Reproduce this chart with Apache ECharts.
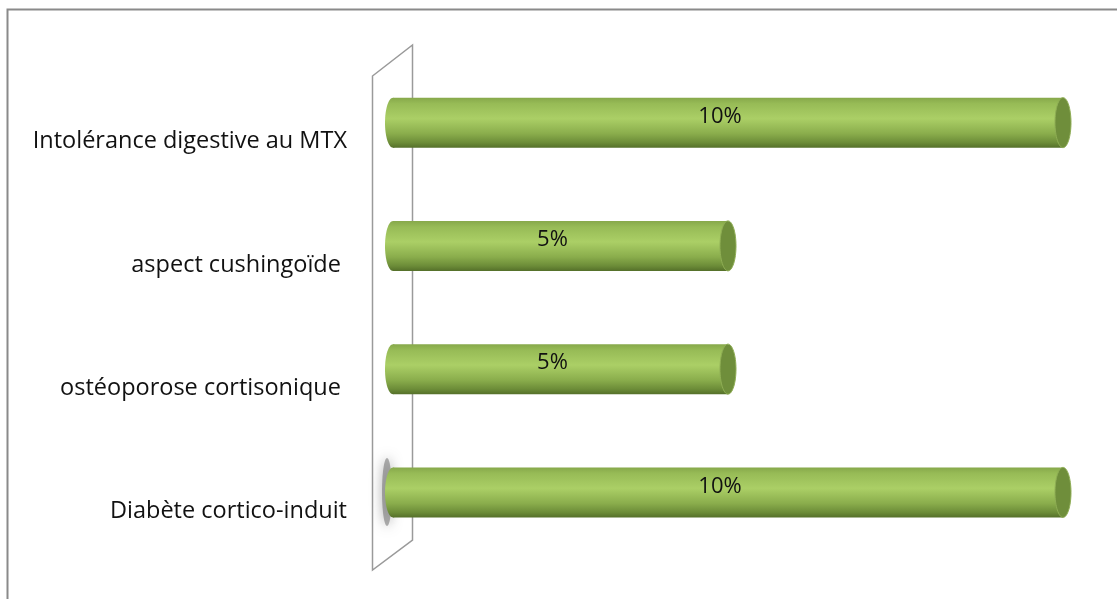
<!DOCTYPE html>
<html>
<head>
<meta charset="utf-8">
<script src="https://cdn.jsdelivr.net/npm/echarts@6/dist/echarts.min.js"></script>
<style>
  html, body { margin: 0; padding: 0; background: #fff; }
  #chart { width: 1117px; height: 599px; }
</style>
</head>
<body>
<div id="chart"></div>
<script>
// Side effects of treatment, share of patients (%), listed bottom to top
const categories = [
  'Diabète cortico-induit',
  'ostéoporose cortisonique ',
  'aspect cushingoïde ',
  'Intolérance digestive au MTX'
];
const percentValues = [10, 5, 5, 10];

const FONT = '"Open Sans", "Noto Sans", sans-serif';

const bodyGradient = new echarts.graphic.LinearGradient(0, 0, 0, 1, [
  { offset: 0, color: '#86a84a' },
  { offset: 0.12, color: '#97bb56' },
  { offset: 0.42, color: '#abcf66' },
  { offset: 0.72, color: '#8aad4c' },
  { offset: 0.9, color: '#6c8c38' },
  { offset: 1, color: '#55702a' }
]);

// Cylinder drawn along the value axis: back end, body and front cap
function renderCylinder(params, api) {
  const cat = api.value(0);
  const val = api.value(1);
  const start = api.coord([0, cat]);
  const end = api.coord([val, cat]);
  const band = api.size([0, 1])[1];
  const h = Math.min(50, band * 0.41);
  const top = start[1] - h / 2;
  const rx = 8;
  return {
    type: 'group',
    children: [
      {
        type: 'ellipse',
        shape: { cx: start[0], cy: start[1], rx: rx, ry: h / 2 },
        style: { fill: bodyGradient }
      },
      {
        type: 'rect',
        shape: { x: start[0], y: top, width: end[0] - start[0], height: h },
        style: { fill: bodyGradient }
      },
      {
        type: 'ellipse',
        shape: { cx: end[0], cy: end[1], rx: rx, ry: h / 2 },
        style: { fill: '#6f8e3b', stroke: '#8fae55', lineWidth: 1 }
      },
      {
        type: 'text',
        x: (start[0] + end[0]) / 2 - 8,
        y: start[1] - 6,
        style: {
          text: val + '%',
          fill: '#111',
          font: '22px ' + FONT,
          align: 'center',
          verticalAlign: 'middle'
        }
      }
    ]
  };
}

const chart = echarts.init(document.getElementById('chart'), null, { renderer: 'canvas' });

chart.setOption({
  animation: false,
  backgroundColor: '#ffffff',
  grid: { left: 393, right: 54, top: 61, bottom: 45 },
  xAxis: {
    type: 'value',
    min: 0,
    max: 10,
    show: false
  },
  yAxis: {
    type: 'category',
    data: categories,
    axisLine: { show: false },
    axisTick: { show: false },
    splitLine: { show: false },
    axisLabel: {
      margin: 46,
      formatter: (v) => '{t|' + v + '}',
      // labels sit a little below the middle of each band
      rich: {
        t: {
          color: '#111',
          fontSize: 23.5,
          fontFamily: FONT,
          padding: [38, 0, 0, 0]
        }
      }
    }
  },
  graphic: [
    {
      type: 'rect',
      z: -10,
      shape: { x: 7.5, y: 9.5, width: 1300, height: 800 },
      style: { fill: 'none', stroke: '#8a8a8a', lineWidth: 2 }
    },
    {
      type: 'polygon',
      z: -5,
      shape: { points: [[372.5, 76], [412.5, 45], [412.5, 540], [372.5, 570]] },
      style: { fill: '#ffffff', stroke: '#9a9a9a', lineWidth: 1.5 }
    },
    {
      type: 'ellipse',
      z: -4,
      shape: { cx: 387, cy: 492, rx: 5, ry: 34 },
      style: { fill: 'rgba(100,100,100,0.5)', shadowBlur: 12, shadowColor: 'rgba(90,90,90,1)' }
    }
  ],
  series: [
    {
      type: 'custom',
      renderItem: renderCylinder,
      encode: { x: 1, y: 0 },
      data: percentValues.map((v, i) => [i, v])
    }
  ]
});
</script>
</body>
</html>
